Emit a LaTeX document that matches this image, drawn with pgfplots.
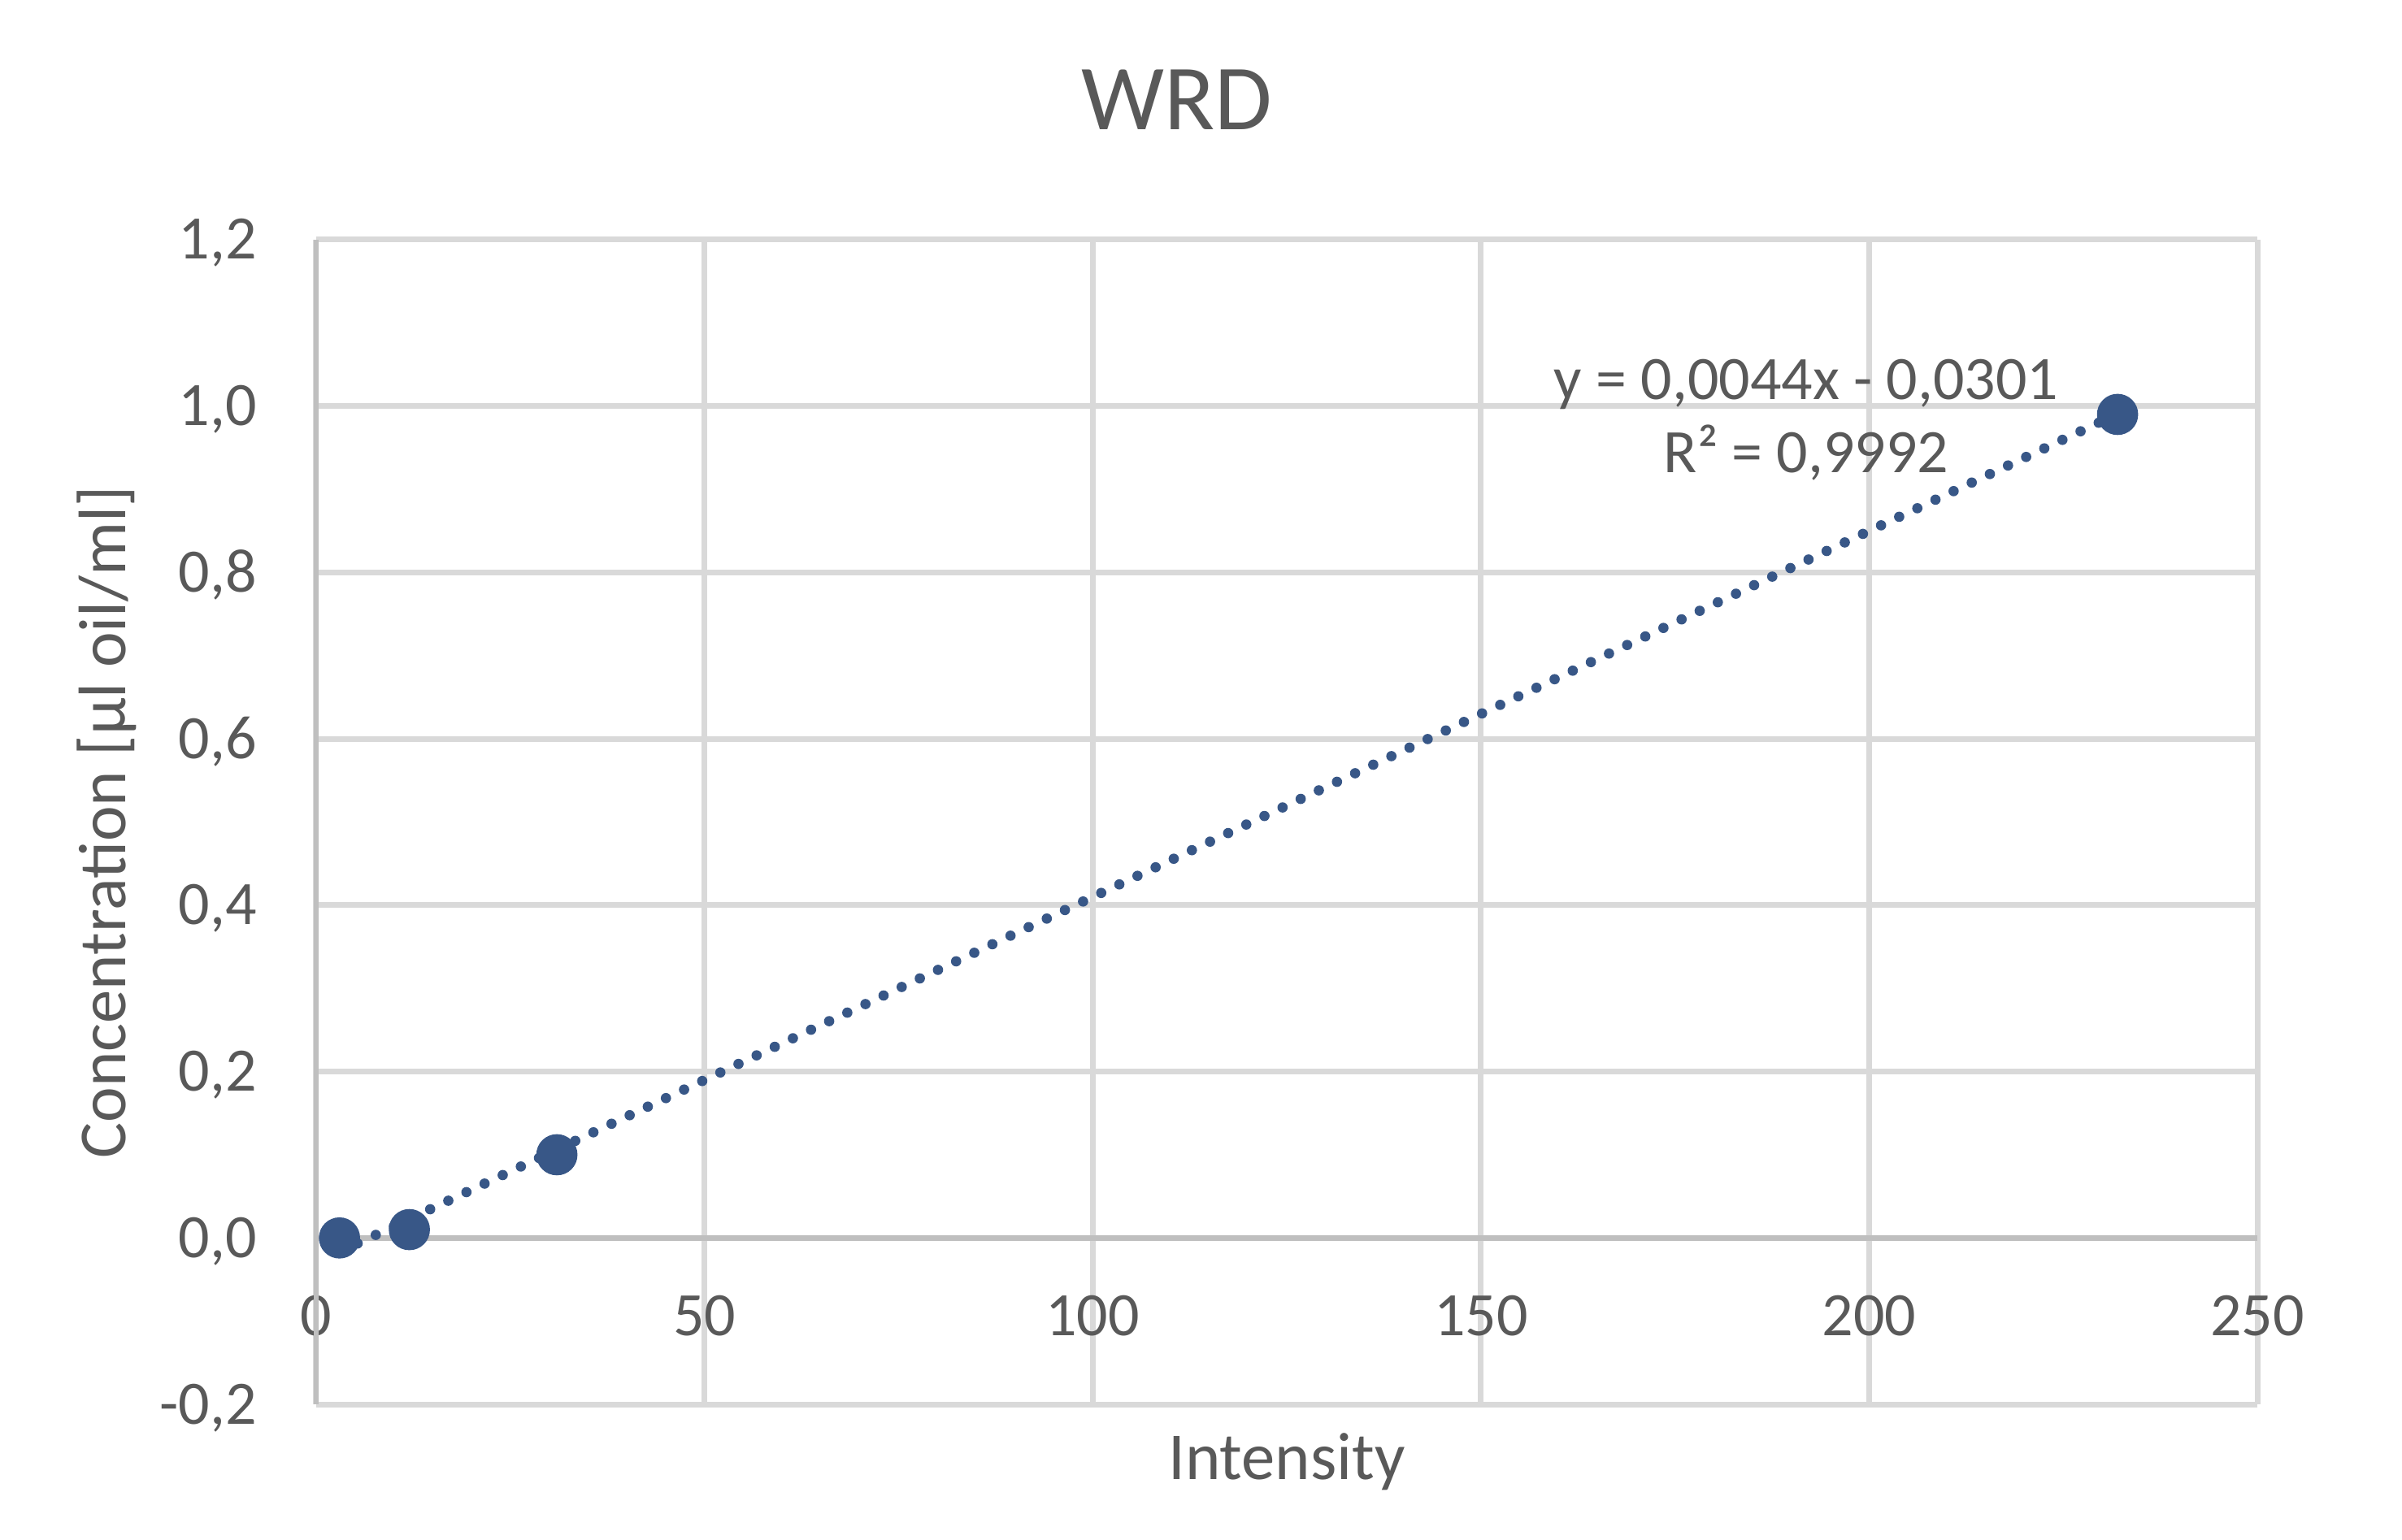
\documentclass[border=0pt]{standalone}
\usepackage{fontspec}
\setmainfont{Carlito}
\usepackage{pgfplots}
\pgfplotsset{compat=1.18}
\definecolor{txt}{HTML}{595959}
\definecolor{gridc}{HTML}{D9D9D9}
\definecolor{axisc}{HTML}{BFBFBF}
\definecolor{mk}{RGB}{56,87,135}
\begin{document}
\begin{tikzpicture}
\begin{axis}[
  scale only axis,
  width=358.2pt, height=214.95pt,
  xmin=0, xmax=250, ymin=-0.2, ymax=1.2,
  xtick={0,50,100,150,200,250},
  ytick={-0.2,0,0.2,0.4,0.6,0.8,1.0,1.2},
  axis line style={draw=none},
  major tick length=0pt,
  grid=major,
  grid style={color=gridc, line width=1.05pt},
  clip=false,
  /pgf/number format/assume math mode=true,
  /pgf/number format/use comma,
  yticklabel style={/pgf/number format/fixed, /pgf/number format/fixed zerofill, /pgf/number format/precision=1,
    font=\fontsize{11.4}{13}\selectfont, text=txt, inner sep=0pt, anchor=base east, xshift=-10.8pt, yshift=-3.6pt},
  xticklabel style={font=\fontsize{11.4}{13}\selectfont, text=txt, inner sep=0pt, anchor=base, yshift=12.75pt},
  xlabel={Intensity},
  ylabel={Concentration [µl oil/ml]},
  xlabel style={font=\fontsize{12.4}{14}\selectfont, text=txt, inner sep=0pt, at={(axis description cs:0.5,-0.0642)}, anchor=base},
  ylabel style={font=\fontsize{12.4}{14}\selectfont, text=txt, inner sep=0pt, at={(axis description cs:-0.098,0.5)}, anchor=base, rotate=0},
  title={WRD},
  title style={font=\fontsize{17.2}{20}\selectfont, text=txt, inner sep=0pt, at={(axis description cs:0.4435,1.0949)}, anchor=base, yshift=-6pt},
]
\draw[axisc, line width=1pt] (axis cs:0,-0.2) -- (axis cs:0,1.2);
\draw[axisc, line width=1pt] (axis cs:0,0) -- (axis cs:250,0);
% trendline y = 0.0044x - 0.0301
\addplot[mk, line width=1.9pt, line cap=round, dash pattern=on 0pt off 3.7pt] coordinates {(3,-0.0169) (232,0.9907)};
\addplot[only marks, mark=*, mark size=3.6pt, mk, mark options={draw=mk, fill=mk}] coordinates {
  (3,0) (12,0.01) (31,0.1) (232,0.99)
};
\node[anchor=base, text=txt, inner sep=0pt, font=\fontsize{11.4}{13}\selectfont] at (axis cs:191.9,1.008) {y = 0,0044x - 0,0301};
\node[anchor=base, text=txt, inner sep=0pt, font=\fontsize{11.4}{13}\selectfont] at (axis cs:191.9,0.920) {R² = 0,9992};
\end{axis}
\path ([xshift=-58.35pt,yshift=-24.9pt]current axis.south west) rectangle ++(443.25pt,284.1pt);
\end{tikzpicture}
\end{document}
